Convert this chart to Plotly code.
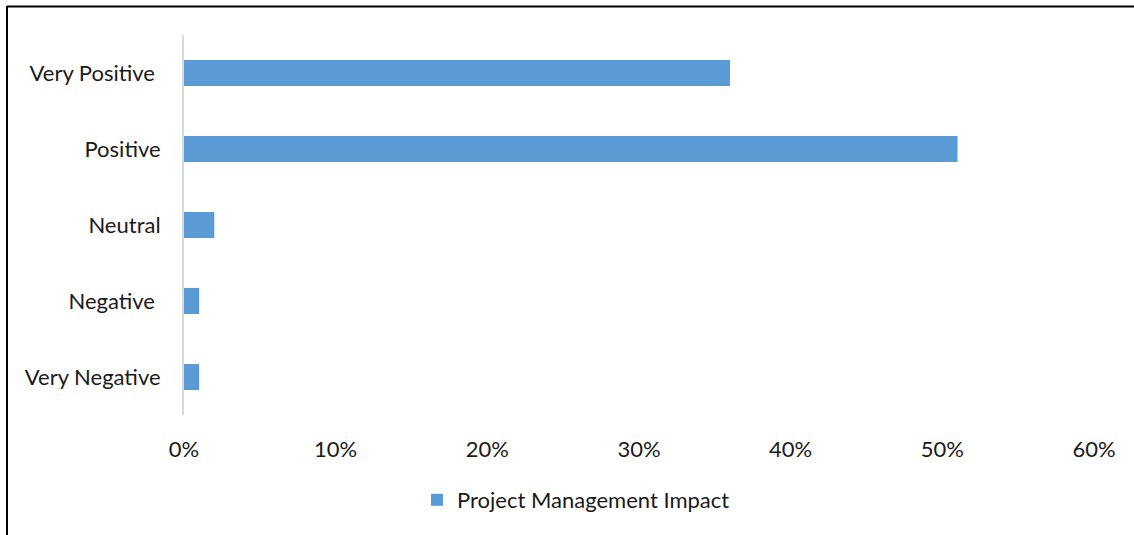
import plotly.graph_objects as go

# Survey responses on project management impact (share of respondents)
categories = ["Very Negative", "Negative\u00a0", "Neutral", "Positive", "Very Positive\u00a0"]
shares = [0.01, 0.01, 0.02, 0.51, 0.36]
series_name = "Project Management Impact"
x_ticks = [0, 0.1, 0.2, 0.3, 0.4, 0.5, 0.6]
x_tick_text = ["0%", "10%", "20%", "30%", "40%", "50%", "60%"]

W, H = 1134, 535
ML, MR, MT, MB = 184, 40, 35, 120
FONT = "Lato, Carlito, Calibri, sans-serif"

fig = go.Figure(
    go.Bar(
        y=categories,
        x=shares,
        orientation="h",
        name=series_name,
        marker=dict(color="#5B9BD5", line=dict(width=0)),
        showlegend=True,
    )
)

# frame lines along the left and top edges of the figure
pw = W - ML - MR
ph = H - MT - MB
def px_to_paper_x(px):
    return (px - ML) / pw
def px_to_paper_y(py):
    return (H - MB - py) / ph

frame = dict(color="black", width=2)
fig.add_shape(type="line", xref="paper", yref="paper",
              x0=px_to_paper_x(7), x1=px_to_paper_x(7),
              y0=px_to_paper_y(6), y1=px_to_paper_y(560), line=frame)
fig.add_shape(type="line", xref="paper", yref="paper",
              x0=px_to_paper_x(7), x1=px_to_paper_x(1160),
              y0=px_to_paper_y(6.5), y1=px_to_paper_y(6.5), line=frame)

fig.update_layout(
    width=W, height=H,
    margin=dict(l=ML, r=MR, t=MT, b=MB, autoexpand=False),
    paper_bgcolor="white", plot_bgcolor="white",
    font=dict(family=FONT, size=22, color="#1a1a1a"),
    bargap=0.658,
    xaxis=dict(
        range=[0, 0.6], tickvals=x_ticks, ticktext=x_tick_text,
        showgrid=False, zeroline=False, showline=False,
        ticks="", ticklabelstandoff=19, automargin=False,
    ),
    yaxis=dict(
        showgrid=False, zeroline=False,
        showline=True, linecolor="#d9d9d9", linewidth=2,
        ticks="", ticklabelstandoff=17, automargin=False,
    ),
    legend=dict(
        orientation="h", x=px_to_paper_x(576), xanchor="center",
        y=px_to_paper_y(500), yanchor="middle",
        font=dict(size=22), itemwidth=30,
    ),
)

fig.write_html("out.html")
